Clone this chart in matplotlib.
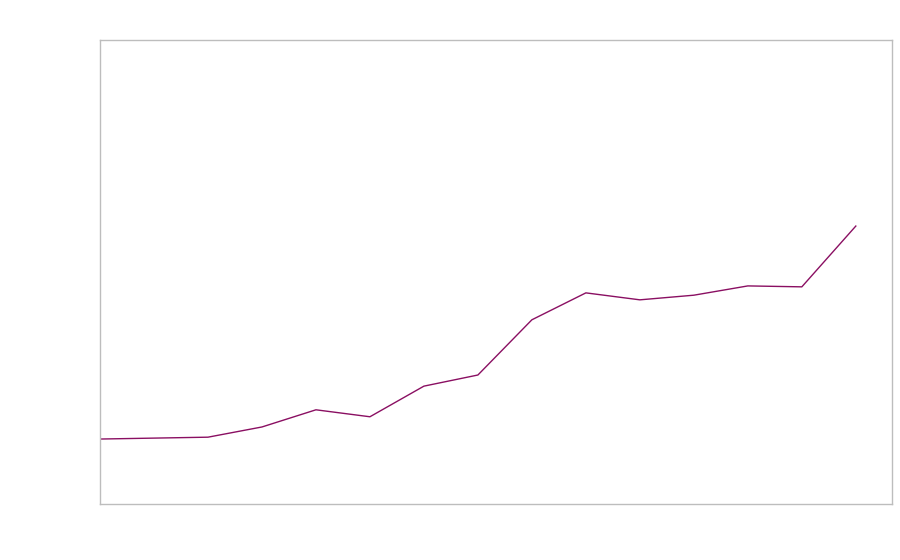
import matplotlib
matplotlib.use('Agg')
import matplotlib.pyplot as plt

# 数据（x 位置和对应数值）
x_vals = [0, 2, 3, 4, 5, 6, 7, 8, 9, 10, 11, 12, 13, 14]
y_vals = [14.0, 14.4, 16.6, 20.3, 18.8, 25.4, 27.8, 39.7, 45.5, 44.0, 45.0, 47.0, 46.8, 59.9]

fig = plt.figure(figsize=(9, 5.6), dpi=100)
ax = fig.add_axes([0.1111, 0.1, 0.88, 0.8286])

ax.plot(x_vals, y_vals, color='#8a0f62', linewidth=1.0)

ax.set_xlim(0, 14.67)
ax.set_ylim(0, 100)

# 无刻度、无标签
ax.set_xticks([])
ax.set_yticks([])
for s in ax.spines.values():
    s.set_color('#bdbdbd')
    s.set_linewidth(1.0)

plt.savefig('out.png', dpi=100)
